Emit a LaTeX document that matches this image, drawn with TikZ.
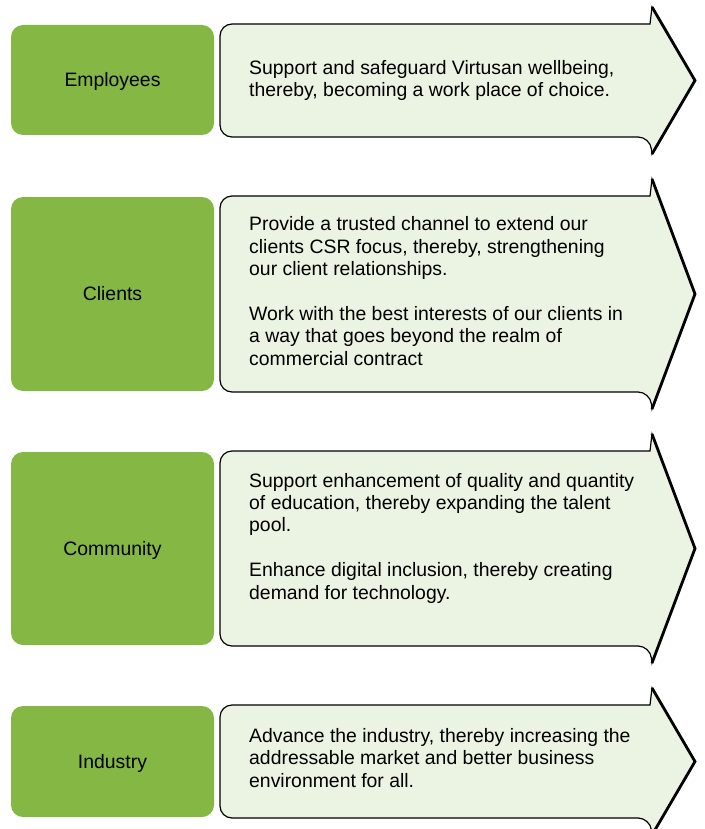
\documentclass[tikz,border=0pt]{standalone}
\usepackage{fontspec}
\setmainfont{Liberation Sans}
\definecolor{leafgreen}{RGB}{132,183,67}
\definecolor{palegreen}{RGB}{235,243,226}
\tikzset{
	groupbox/.style={fill=leafgreen, rounded corners=12pt, minimum width=203pt, inner sep=0pt, text height=13.9pt, text depth=0pt, font=\fontsize{19.4}{22.4}\selectfont},
	blurb/.style={anchor=base west, align=left, inner sep=0pt, font=\fontsize{19.4}{22.4}\selectfont},
}
\def\aimarrow(#1:#2){
	\draw[line width=1.2pt, fill=palegreen] (650, #1) [rounded corners=12pt] -- (220, #1) -- (220, #2) -- (650, #2) [sharp corners] -- (652, #2+17) -- (695, {(#1+#2)/2}) -- (652, #1-17) -- cycle;
	\draw[line width=2.8pt, line join=miter] (652, #1-17) -- (695, {(#1+#2)/2}) -- (652, #2+17);
}

\begin{document}
\begin{tikzpicture}[x=1pt, y=-1pt]
			%%%%% START %%%%%
			\useasboundingbox (0, 0) rectangle (704, 829);
			
			% the base of a text node is its last line
			\node[groupbox, minimum height=110pt] (employees) at (112.5, 80) {Employees};
			\aimarrow(24:137)
			\node[blurb] (employeesaim) at (249, 97) {Support and safeguard Virtusan wellbeing,\\thereby, becoming a work place of choice.};
			
			\node[groupbox, minimum height=194pt] (clients) at (112.5, 294) {Clients};
			\aimarrow(196:392)
			\node[blurb] (clientsaim) at (249, 365) {Provide a trusted channel to extend our\\clients CSR focus, thereby, strengthening\\our client relationships.\\[22.4pt]Work with the best interests of our clients in\\a way that goes beyond the realm of\\commercial contract};
			
			\node[groupbox, minimum height=193pt] (community) at (112.5, 548.5) {Community};
			\aimarrow(451:646)
			\node[blurb] (communityaim) at (249, 599) {Support enhancement of quality and quantity\\of education, thereby expanding the talent\\pool.\\[22.4pt]Enhance digital inclusion, thereby creating\\demand for technology.};
			
			\node[groupbox, minimum height=111pt] (industry) at (112.5, 761.5) {Industry};
			\aimarrow(705:818)
			\node[blurb] (industryaim) at (249, 787) {Advance the industry, thereby increasing the\\addressable market and better business\\environment for all.};
			
			%%%%% END %%%%%
		\end{tikzpicture}
\end{document}
